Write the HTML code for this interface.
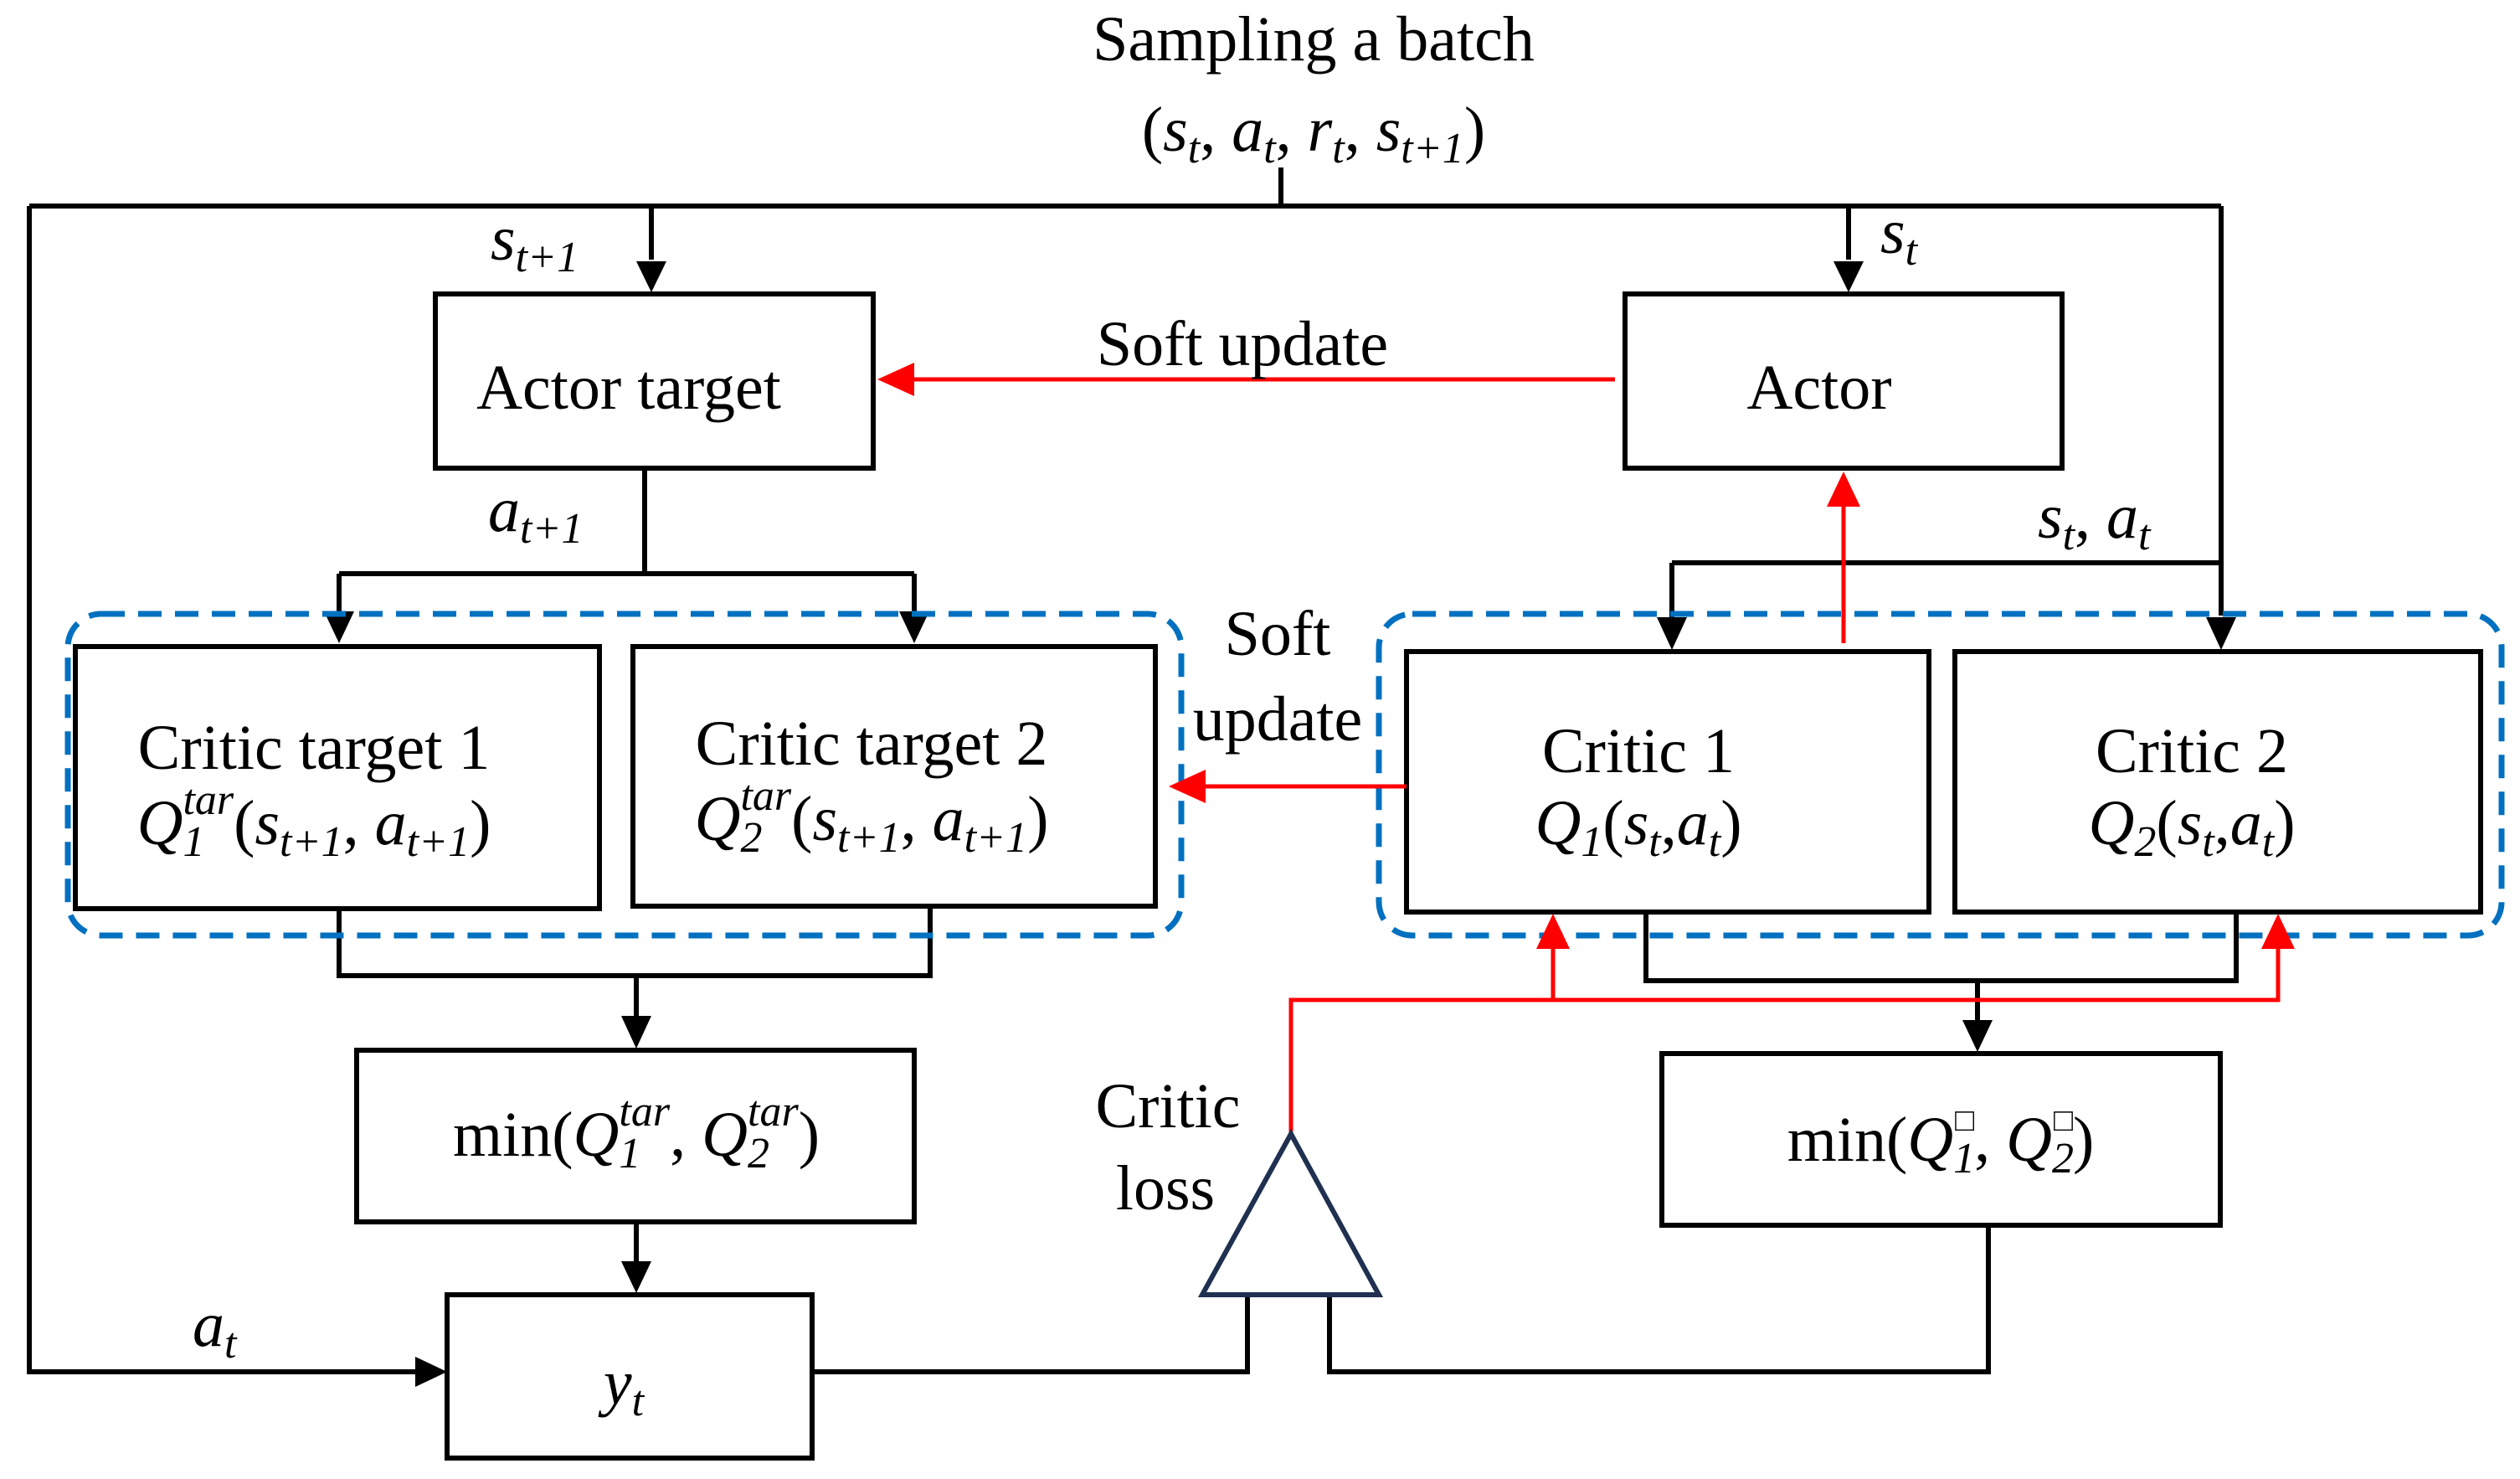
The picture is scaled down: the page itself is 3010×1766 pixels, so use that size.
<!DOCTYPE html>
<html><head><meta charset="utf-8"><style>
html,body{margin:0;padding:0;background:#fff;}
svg{display:block;}
text{font-family:"Liberation Serif",serif;fill:#000;}
.i{font-style:italic;}
</style></head><body>
<svg width="3010" height="1766" viewBox="0 0 3010 1766" xmlns="http://www.w3.org/2000/svg">
<g stroke="#000" stroke-width="6" fill="none">
<polyline points="1530,200 1530,246"/>
<polyline points="35,246 2653,246"/>
<polyline points="35,246 35,1638 500,1638"/>
<polyline points="778,246 778,310"/>
<polyline points="2208,246 2208,310"/>
<polyline points="2653,246 2653,735"/>
<polyline points="1997,672 2653,672"/>
<polyline points="1997,672 1997,740"/>
<rect x="520" y="351" width="523" height="208"/>
<rect x="1941" y="351" width="522" height="208"/>
<rect x="90" y="772" width="626" height="313"/>
<rect x="756" y="772" width="624" height="310"/>
<rect x="1680" y="778" width="624" height="311"/>
<rect x="2335" y="778" width="628" height="311"/>
<rect x="426" y="1254" width="666" height="205"/>
<rect x="534" y="1546" width="436" height="195"/>
<rect x="1985" y="1258" width="667" height="205"/>
<polyline points="770,559 770,685"/>
<polyline points="405,685 1092,685"/>
<polyline points="405,685 405,735"/>
<polyline points="1092,685 1092,735"/>
<polyline points="405,1085 405,1165 1111,1165 1111,1082"/>
<polyline points="760,1165 760,1215"/>
<polyline points="760,1459 760,1508"/>
<polyline points="1966,1089 1966,1171 2671,1171 2671,1089"/>
<polyline points="2362,1171 2362,1220"/>
<polyline points="970,1638 1490,1638 1490,1546"/>
<polyline points="1588,1546 1588,1638 2375,1638 2375,1463"/>
</g>
<g fill="#000">
<path d="M760,312 L796,312 L778,349 z"/>
<path d="M2190,312 L2226,312 L2208,349 z"/>
<path d="M387,730 L423,730 L405,768 z"/>
<path d="M1074,730 L1110,730 L1092,768 z"/>
<path d="M1979,737 L2015,737 L1997,776 z"/>
<path d="M2635,737 L2671,737 L2653,776 z"/>
<path d="M742,1213 L778,1213 L760,1252 z"/>
<path d="M742,1506 L778,1506 L760,1544 z"/>
<path d="M2344,1218 L2380,1218 L2362,1256 z"/>
<path d="M496,1620 L496,1656 L534,1638 z"/>
</g>
<g stroke="#0070C0" stroke-width="7" fill="none" stroke-dasharray="28,16">
<rect x="81" y="733" width="1330" height="384" rx="40"/>
<rect x="1647" y="733" width="1341" height="384" rx="40"/>
</g>
<g stroke="#FF0000" stroke-width="5" fill="none">
<polyline points="1929,453 1090,453"/>
<polyline points="2202,768 2202,600"/>
<polyline points="1680,939 1440,939"/>
<polyline points="1542,1354 1542,1194 2721,1194 2721,1130"/>
<polyline points="1855,1194 1855,1130"/>
</g>
<g fill="#FF0000">
<path d="M1048,453 L1092,433 L1092,473 z"/>
<path d="M2202,563 L2182,605 L2222,605 z"/>
<path d="M1396,939 L1440,919 L1440,959 z"/>
<path d="M1855,1091 L1835,1133 L1875,1133 z"/>
<path d="M2721,1091 L2701,1133 L2741,1133 z"/>
</g>
<polygon points="1542,1354 1436,1546 1647,1546" fill="none" stroke="#1F3050" stroke-width="6"/>
<g font-size="76">
<text x="1569" y="72" text-anchor="middle">Sampling a batch</text>
<text x="1569" y="180" text-anchor="middle">(<tspan class="i">s</tspan><tspan class="i" font-size="52" dy="14">t</tspan><tspan dy="-14">, </tspan><tspan class="i">a</tspan><tspan class="i" font-size="52" dy="14">t</tspan><tspan dy="-14">, </tspan><tspan class="i">r</tspan><tspan class="i" font-size="52" dy="14">t</tspan><tspan dy="-14">, </tspan><tspan class="i">s</tspan><tspan class="i" font-size="52" dy="14">t+1</tspan><tspan dy="-14">)</tspan></text>
<text x="586" y="310" class="i">s<tspan font-size="52" dy="14">t+1</tspan></text>
<text x="2246" y="302" class="i">s<tspan font-size="52" dy="14">t</tspan></text>
<text x="751" y="488" text-anchor="middle">Actor target</text>
<text x="2173" y="488" text-anchor="middle">Actor</text>
<text x="1484" y="436" text-anchor="middle">Soft update</text>
<text x="583" y="634" class="i">a<tspan font-size="52" dy="14">t+1</tspan></text>
<text x="2434" y="642" class="i">s<tspan font-size="52" dy="14">t</tspan><tspan dy="-14" font-style="normal">, </tspan>a<tspan font-size="52" dy="14">t</tspan></text>
<text x="1526" y="782" text-anchor="middle">Soft</text>
<text x="1526" y="884" text-anchor="middle">update</text>
<text x="375" y="918" text-anchor="middle">Critic target 1</text>
<text x="375" y="1008" text-anchor="middle"><tspan class="i">Q</tspan><tspan class="i" font-size="52" dy="14">1</tspan><tspan class="i" font-size="52" dx="-26" dy="-50">tar</tspan><tspan dy="36">(</tspan><tspan class="i">s</tspan><tspan class="i" font-size="52" dy="14">t+1</tspan><tspan dy="-14">, </tspan><tspan class="i">a</tspan><tspan class="i" font-size="52" dy="14">t+1</tspan><tspan dy="-14">)</tspan></text>
<text x="1041" y="913" text-anchor="middle">Critic target 2</text>
<text x="1041" y="1003" text-anchor="middle"><tspan class="i">Q</tspan><tspan class="i" font-size="52" dy="14">2</tspan><tspan class="i" font-size="52" dx="-26" dy="-50">tar</tspan><tspan dy="36">(</tspan><tspan class="i">s</tspan><tspan class="i" font-size="52" dy="14">t+1</tspan><tspan dy="-14">, </tspan><tspan class="i">a</tspan><tspan class="i" font-size="52" dy="14">t+1</tspan><tspan dy="-14">)</tspan></text>
<text x="1957" y="922" text-anchor="middle">Critic 1</text>
<text x="1957" y="1008" text-anchor="middle"><tspan class="i">Q</tspan><tspan class="i" font-size="52" dy="14">1</tspan><tspan dy="-14">(</tspan><tspan class="i">s</tspan><tspan class="i" font-size="52" dy="14">t</tspan><tspan dy="-14">,</tspan><tspan class="i">a</tspan><tspan class="i" font-size="52" dy="14">t</tspan><tspan dy="-14">)</tspan></text>
<text x="2618" y="922" text-anchor="middle">Critic 2</text>
<text x="2618" y="1008" text-anchor="middle"><tspan class="i">Q</tspan><tspan class="i" font-size="52" dy="14">2</tspan><tspan dy="-14">(</tspan><tspan class="i">s</tspan><tspan class="i" font-size="52" dy="14">t</tspan><tspan dy="-14">,</tspan><tspan class="i">a</tspan><tspan class="i" font-size="52" dy="14">t</tspan><tspan dy="-14">)</tspan></text>
<text x="760" y="1380" text-anchor="middle">min(<tspan class="i">Q</tspan><tspan class="i" font-size="52" dy="14">1</tspan><tspan class="i" font-size="52" dx="-26" dy="-50">tar</tspan><tspan dy="36">, </tspan><tspan class="i">Q</tspan><tspan class="i" font-size="52" dy="14">2</tspan><tspan class="i" font-size="52" dx="-26" dy="-50">tar</tspan><tspan dy="36">)</tspan></text>
<text x="2318" y="1386" text-anchor="middle">min(<tspan class="i">Q</tspan><tspan class="i" font-size="52" dy="14">1</tspan><tspan font-size="38" dx="-24" dy="-50">□</tspan><tspan dy="36">, </tspan><tspan class="i">Q</tspan><tspan class="i" font-size="52" dy="14">2</tspan><tspan font-size="38" dx="-24" dy="-50">□</tspan><tspan dy="36">)</tspan></text>
<text x="1395" y="1346" text-anchor="middle">Critic</text>
<text x="1392" y="1444" text-anchor="middle">loss</text>
<text x="230" y="1607" class="i">a<tspan font-size="52" dy="14">t</tspan></text>
<text x="745" y="1676" text-anchor="middle" class="i">y<tspan font-size="52" dy="14">t</tspan></text>
</g>
</svg>
</body></html>
